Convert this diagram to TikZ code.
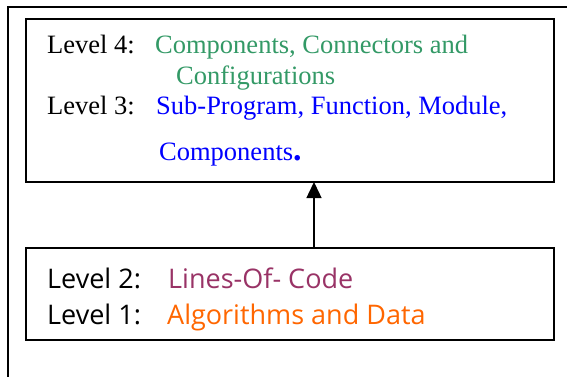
\documentclass[tikz,border=0pt]{standalone}
\usepackage{fontspec}
\setmainfont{Liberation Serif}
\newfontfamily\casualfont{Open Sans}
\usetikzlibrary{arrows.meta}
\definecolor{seagreen}{RGB}{51,153,102}
\definecolor{plum}{RGB}{153,51,102}
\definecolor{tangerine}{RGB}{255,102,0}
\begin{document}
\begin{tikzpicture}[x=1pt,y=-1pt,
  levelbox/.style={draw, line width=1.7pt, inner sep=0pt, outer sep=0pt, anchor=north west},
  serif/.style={anchor=base west, inner sep=0pt, font=\fontsize{26.5}{30}\selectfont},
  casual/.style={anchor=base west, inner sep=0pt, font=\casualfont\fontsize{27}{30}\selectfont}]
\useasboundingbox (0,0) rectangle (567,377);
% open outer frame
\draw[line width=1.3pt] (567,7) -- (8,7) -- (8,377);
% the two level boxes
\node[levelbox, minimum width=528pt, minimum height=163pt] (upper) at (26,19) {};
\node[levelbox, minimum width=528pt, minimum height=92pt] (lower) at (26,248) {};
\draw[line width=1.4pt, -{Triangle[length=16pt,width=15pt]}]
  ([xshift=24pt]lower.north) -- ([xshift=24pt]upper.south);
% upper levels
\node[serif] (l4) at (47,54) {Level 4:};
\node[serif, text=seagreen] (l4a) at (155,54) {Components, Connectors and};
\node[serif, text=seagreen] (l4b) at (176,85) {Configurations};
\node[serif] (l3) at (47,115) {Level 3:};
\node[serif, text=blue] (l3a) at (156,115) {Sub-Program, Function, Module,};
\node[serif, text=blue] (l3b) at (159,160) {Components{\fontsize{34}{34}\selectfont\bfseries .}};
% lower levels
\node[casual] (l2) at (47,288) {Level 2:};
\node[casual, text=plum] (l2a) at (168,288) {Lines-Of- Code};
\node[casual] (l1) at (47,324) {Level 1:};
\node[casual, text=tangerine] (l1a) at (167,324) {Algorithms and Data};
\end{tikzpicture}
\end{document}
